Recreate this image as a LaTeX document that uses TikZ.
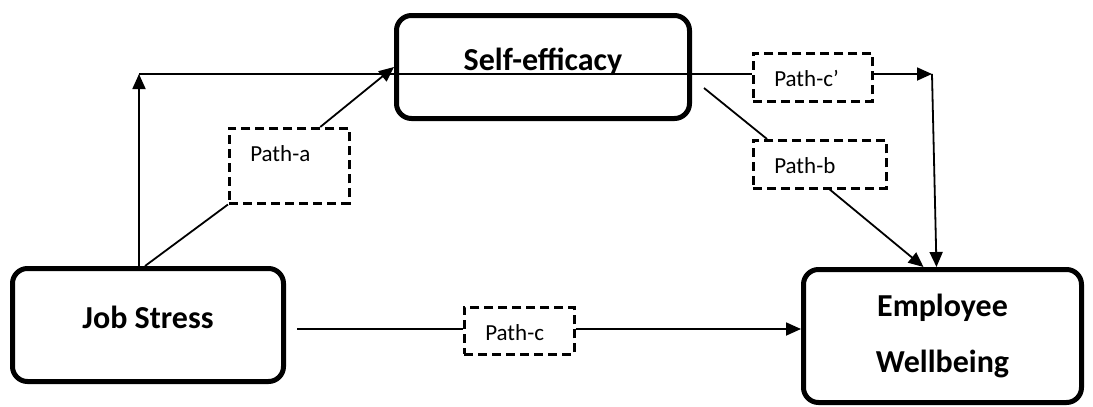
\documentclass[tikz,border=0pt]{standalone}
\usepackage{fontspec}
\setmainfont{Carlito}
\usetikzlibrary{arrows.meta}
\begin{document}
\begin{tikzpicture}[x=1pt,y=-1pt,
        bigbox/.style={draw=black,rectangle,rounded corners=15pt,line width=5pt,font=\fontsize{32}{56}\selectfont\bfseries},
        lift/.style={text height=22pt,text depth=16pt},
        pathbox/.style={draw=black,rectangle,line width=2.5pt,dash pattern=on 9pt off 5pt,anchor=north west,align=left,inner xsep=21pt,inner ysep=0pt,text height=33pt,font=\fontsize{23}{27}\selectfont},
        line/.style={line width=1.8pt},
        arr/.style={line width=1.8pt,-{Triangle[length=15pt,width=13pt]}}
      ]
      \useasboundingbox (0,0) rectangle (1093,407);
      \node[bigbox,lift,minimum width=271pt,minimum height=113pt] (js) at (148,325) {Job Stress};
      \node[bigbox,lift,minimum width=293pt,minimum height=103pt] (se) at (543,67) {Self-efficacy};
      \node[bigbox,align=center,minimum width=278pt,minimum height=133pt] (ew) at (942.5,336) {Employee\\Wellbeing};
      \node[pathbox,text width=78pt,text depth=42pt] (pa) at (228,127) {Path-a};
      \node[pathbox,text width=91pt,text depth=15pt] (pb) at (752,139) {Path-b};
      \node[pathbox,text width=77pt,text depth=15pt] (pcp) at (752,52) {Path-c’};
      \node[pathbox,text width=68pt,text depth=14pt] (pc) at (463,306) {Path-c};
      \coordinate (tl) at (139,74);
      \coordinate (cr) at (932,74);
      \coordinate (jsr) at (297,329);
      \draw[arr] ([xshift=-9pt]js.north) -- (tl);
      \draw[line] (tl) -- (tl -| pcp.west);
      \draw[arr] (cr -| pcp.east) -- (cr);
      \draw[arr] (cr) -- ([xshift=-6pt]ew.north);
      \draw[line] ([xshift=-3pt]js.north) -- (pa.south west);
      \draw[arr] ([xshift=31pt]pa.north) -- (se.west);
      \draw[line] ([xshift=12pt,yshift=-21pt]se.east) -- ([xshift=15pt]pb.north west);
      \draw[arr] ([xshift=10pt]pb.south) -- ([xshift=-19pt]ew.north);
      \draw[line] (jsr) -- (jsr -| pc.west);
      \draw[arr] (jsr -| pc.east) -- (jsr -| ew.west);
    \end{tikzpicture}
\end{document}
